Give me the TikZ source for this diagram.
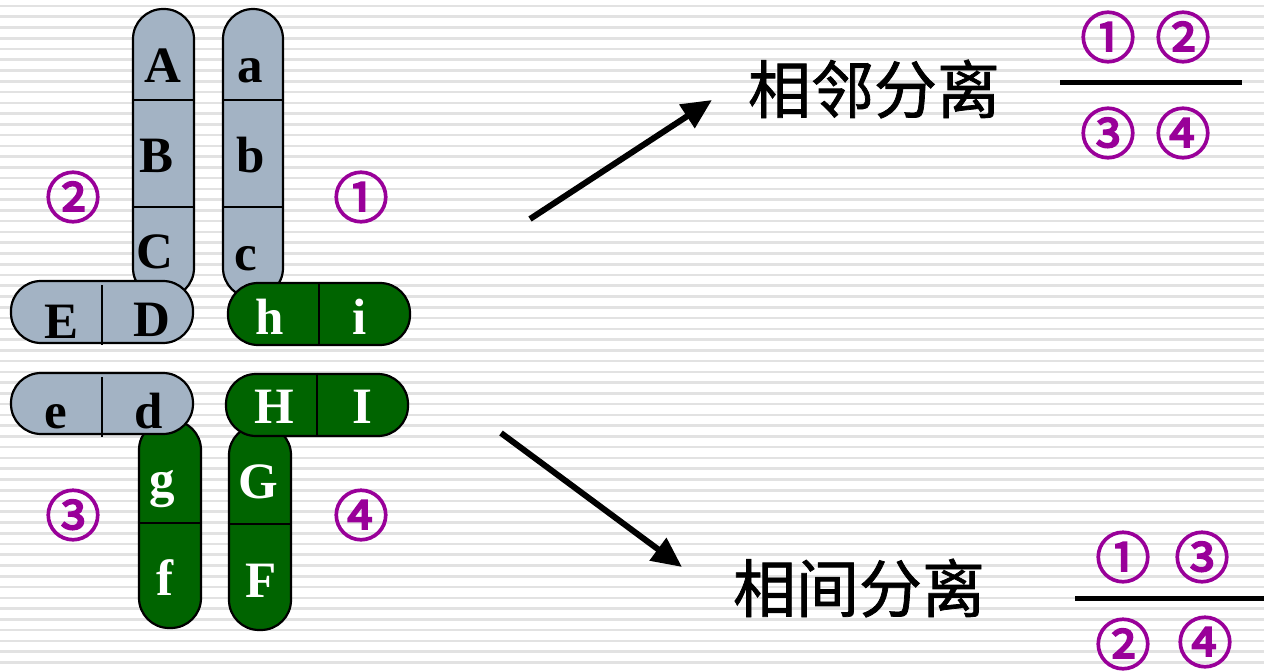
\documentclass[tikz,border=0pt]{standalone}
\usepackage{fontspec}
\setmainfont{Liberation Serif}
\newfontfamily\cjk[FakeBold=1.2]{Noto Sans CJK SC}
\newfontfamily\numfont[FakeBold=3.5]{Noto Sans CJK SC}
\usetikzlibrary{arrows.meta}
\definecolor{chromgray}{HTML}{A3B3C4}
\definecolor{chromgreen}{HTML}{006400}
\definecolor{numpurple}{HTML}{990099}
\definecolor{stripegray}{HTML}{E2E2E2}
\tikzset{
  chromo/.style={draw=black, line width=2.2pt, rectangle, inner sep=0pt, rounded corners=#1},
  graychr/.style={chromo=30pt, fill=chromgray},
  greenchr/.style={chromo=30pt, fill=chromgreen},
  divider/.style={draw=black, line width=2pt},
  gene/.style={font=\fontsize{51}{51}\selectfont\bfseries, inner sep=0pt, anchor=base},
  darkgene/.style={gene, text=black},
  lightgene/.style={gene, text=white},
  num/.style={font=\numfont\fontsize{55}{55}\selectfont, text=numpurple, inner sep=0pt},
  title/.style={font=\cjk\fontsize{63}{63}\selectfont, text=black, inner sep=0pt},
  bar/.style={draw=black, line width=5pt},
  arrowline/.style={draw=black, line width=6pt, -{Triangle[length=30pt,width=27pt]}},
}
\begin{document}
\begin{tikzpicture}[x=1pt,y=-1pt]
  \useasboundingbox (0,0) rectangle (1264,671);
  % striped backdrop
  \fill[white] (0,0) rectangle (1264,671);
  \foreach \k in {0,...,62} {
    \fill[stripegray] (0,{6+10.76*\k-1.3}) rectangle (1264,{6+10.76*\k+1.3});
  }

  % upper-left pair: A B C over E D
  \node[graychr, minimum width=61pt, minimum height=289pt] (ABC) at (163.5,153.5) {};
  \draw[divider] (ABC.west |- 0,100) -- (ABC.east |- 0,100);
  \draw[divider] (ABC.west |- 0,207) -- (ABC.east |- 0,207);
  \node[darkgene] (lA) at (163,83) {A};
  \node[darkgene] (lB) at (157,173) {B};
  \node[darkgene] (lC) at (155,269) {C};

  \node[graychr, minimum width=60pt, minimum height=289pt] (abc) at (253,153.5) {};
  \draw[divider] (abc.west |- 0,100) -- (abc.east |- 0,100);
  \draw[divider] (abc.west |- 0,207) -- (abc.east |- 0,207);
  \node[darkgene] (la) at (250,83) {a};
  \node[darkgene] (lb) at (251,173) {b};
  \node[darkgene] (lc) at (246,270) {c};

  \node[graychr, minimum width=182pt, minimum height=62pt] (ED) at (102,312) {};
  \draw[divider] (102,285) -- (102,345);
  \node[darkgene] (lE) at (62,338) {E};
  \node[darkgene] (lD) at (152,336) {D};

  \node[greenchr, minimum width=182pt, minimum height=62pt] (hi) at (319,314) {};
  \draw[divider] (hi.north -| 319,0) -- (hi.south -| 319,0);
  \node[lightgene] (lh) at (270,334) {h};
  \node[lightgene] (li) at (360,334) {i};

  % lower pair: g f under e d, G F under H I
  \node[greenchr, minimum width=62pt, minimum height=208pt] (gf) at (170,524) {};
  \draw[divider] (gf.west |- 0,523) -- (gf.east |- 0,523);
  \node[lightgene] (lg) at (162,496) {g};
  \node[lightgene] (lf) at (165,595) {f};

  \node[greenchr, minimum width=62pt, minimum height=205pt] (GF) at (260,527.5) {};
  \draw[divider] (GF.west |- 0,524) -- (GF.east |- 0,524);
  \node[lightgene] (lG) at (258,498) {G};
  \node[lightgene] (lF) at (261,597) {F};

  \node[graychr, minimum width=182pt, minimum height=61pt] (ed) at (102,403.5) {};
  \draw[divider] (102,377) -- (102,437);
  \node[darkgene] (le) at (56,428) {e};
  \node[darkgene] (ld) at (149,428) {d};

  \node[greenchr, minimum width=182pt, minimum height=62pt] (HI) at (317,405) {};
  \draw[divider] (HI.north -| 317,0) -- (HI.south -| 317,0);
  \node[lightgene] (lH) at (274,423) {H};
  \node[lightgene] (lI) at (362,423) {I};

  % quadrant numbers
  \node[num] (n2) at (73,197) {②};
  \node[num] (n1) at (361,197) {①};
  \node[num] (n3) at (73,515) {③};
  \node[num] (n4) at (361,515) {④};

  % arrows to the two outcomes
  \coordinate (upfrom) at (530,219);
  \coordinate (upto) at (712,100);
  \coordinate (downfrom) at (501,433);
  \coordinate (downto) at (682,567);
  \draw[arrowline] (upfrom) -- (upto);
  \draw[arrowline] (downfrom) -- (downto);

  % adjacent segregation
  \node[title] (adj) at (874,89) {相邻分离};
  \node[num] (t1) at (1108,37) {①};
  \node[num] (t2) at (1183,37) {②};
  \coordinate (barAl) at (1060,83);
  \coordinate (barAr) at (1242,83);
  \draw[bar] (barAl) -- (barAr);
  \node[num] (b3) at (1108,133) {③};
  \node[num] (b4) at (1183,133) {④};

  % alternate segregation
  \node[title] (alt) at (859,588) {相间分离};
  \node[num] (t1b) at (1123,557) {①};
  \node[num] (t3b) at (1202,557) {③};
  \coordinate (barBl) at (1075,598);
  \coordinate (barBr) at (1264,598);
  \draw[bar] (barBl) -- (barBr);
  \node[num] (b2b) at (1123,644) {②};
  \node[num] (b4b) at (1205,642) {④};
\end{tikzpicture}
\end{document}
